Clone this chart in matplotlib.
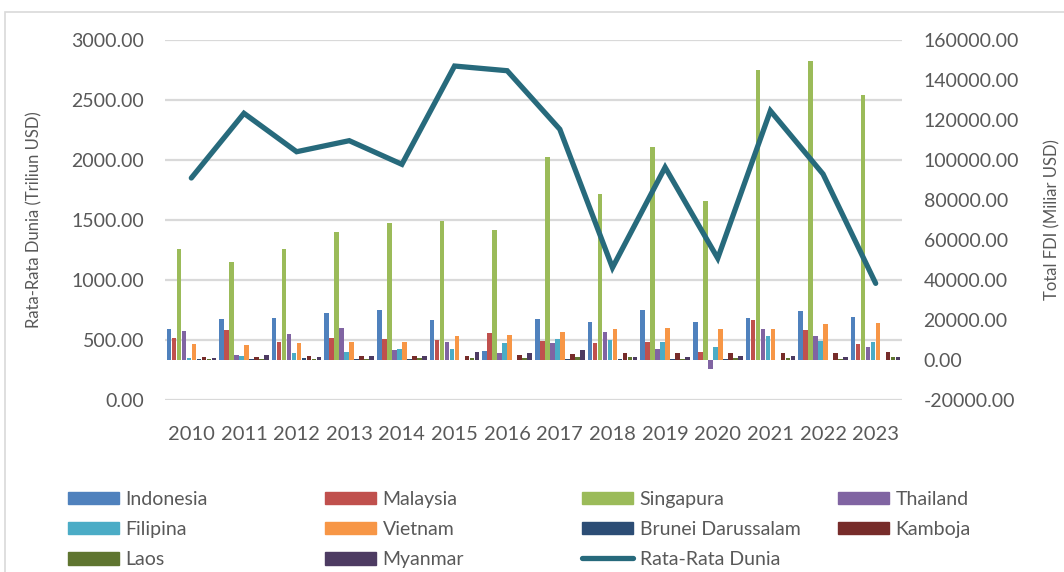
import numpy as np
import matplotlib.pyplot as plt
from matplotlib.lines import Line2D
from matplotlib.patches import Patch, Rectangle

plt.rcParams['font.family'] = ['Lato', 'DejaVu Sans']

# data (Total FDI in Miliar USD, world average in Triliun USD)
years = ['2010', '2011', '2012', '2013', '2014', '2015', '2016',
         '2017', '2018', '2019', '2020', '2021', '2022', '2023']

indonesia = [15300, 20500, 21200, 23500, 25000, 20000, 4500,
             20500, 19000, 25000, 19200, 21200, 24700, 21700]
malaysia = [11000, 15200, 9200, 11200, 10500, 10000, 13500,
            9300, 8500, 9000, 4200, 20200, 15200, 8200]
singapura = [55300, 49000, 55300, 64200, 68300, 69500, 64800,
             101700, 83000, 106500, 79500, 145200, 149300, 132500]
thailand = [14700, 2700, 13000, 16000, 4800, 9000, 3700,
            8500, 13800, 5500, -4500, 15300, 12000, 6500]
filipina = [1200, 2000, 3300, 4000, 5700, 5500, 8500,
            10300, 10000, 8800, 6700, 11800, 9300, 9000]
vietnam = [8200, 7500, 8500, 9000, 9200, 11800, 12700,
           14200, 15500, 16000, 15700, 15700, 18000, 18700]
brunei = [500, 700, 900, 700, 600, 200, -150,
          500, 500, 400, 600, 200, 200, 200]
kamboja = [1300, 1700, 2000, 2000, 2000, 2000, 2700,
           3200, 3300, 3700, 3700, 3700, 3700, 4000]
laos = [300, 500, 600, 400, 900, 1000, 1000,
        1700, 1300, 700, 1000, 1000, 700, 1700]
myanmar = [1000, 2700, 1300, 2200, 2200, 4200, 3300,
           5000, 1700, 1700, 2000, 1800, 1300, 1700]

rata_rata_dunia = [1850, 2389, 2069, 2161, 1964, 2783, 2744,
                   2256, 1103, 1939, 1181, 2410, 1883, 972]

countries = ['Indonesia', 'Malaysia', 'Singapura', 'Thailand', 'Filipina',
             'Vietnam', 'Brunei Darussalam', 'Kamboja', 'Laos', 'Myanmar']
series = [indonesia, malaysia, singapura, thailand, filipina,
          vietnam, brunei, kamboja, laos, myanmar]
colors = ['#4F81BD', '#C0504D', '#9BBB59', '#8064A2', '#4BACC6',
          '#F79646', '#2C4D75', '#772C2A', '#5F7530', '#4D3B62']
line_color = '#276A7C'
text_color = '#595959'
grid_color = '#D9D9D9'

fig = plt.figure(figsize=(10.64, 5.72), dpi=100)
fig.patches.append(Rectangle((5 / 1064, -0.1), 1.2, 1 - 12 / 572 + 0.1,
                             transform=fig.transFigure, fill=False,
                             edgecolor=grid_color, linewidth=1.2))

ax = fig.add_axes([165 / 1064, 1 - 400 / 572, 737 / 1064, 360 / 572])
ax2 = ax.twinx()

# bars -> right axis (ax), line -> left axis (ax2, drawn on top)
left_lo, left_hi = 0, 3000
right_lo, right_hi = -20000, 160000
ax.set_ylim(right_lo, right_hi)
ax2.set_ylim(left_lo, left_hi)

x = np.arange(len(years))
n = len(series)
group = 0.95
w = group / n
for i, (vals, c) in enumerate(zip(series, colors)):
    ax.bar(x - group / 2 + w * (i + 0.5), vals, width=w * 0.92, color=c,
           zorder=3)

# horizontal gridlines at the left-axis ticks, behind the bars
left_ticks = np.arange(0, 3001, 500)
for t in left_ticks:
    yv = right_lo + (t - left_lo) * (right_hi - right_lo) / (left_hi - left_lo)
    ax.axhline(yv, color=grid_color, linewidth=1.6, zorder=1)

ax2.plot(x, rata_rata_dunia, color=line_color, linewidth=3.8,
         solid_joinstyle='miter', solid_capstyle='round', zorder=4)

ax.set_xlim(-0.5, len(years) - 0.5)
ax.set_xticks(x)
ax.set_xticklabels(years)
ax.yaxis.tick_right()
ax.yaxis.set_label_position('right')
ax.set_yticks(np.arange(-20000, 160001, 20000))
ax.set_yticklabels(['%.2f' % v for v in np.arange(-20000, 160001, 20000)])
ax2.yaxis.tick_left()
ax2.yaxis.set_label_position('left')
ax2.set_yticks(left_ticks)
ax2.set_yticklabels(['%.2f' % v for v in left_ticks])

for a in (ax, ax2):
    for s in a.spines.values():
        s.set_visible(False)
    a.tick_params(length=0, colors=text_color, labelsize=14)
ax.tick_params(axis='x', pad=19, labelsize=14.5)
ax.tick_params(axis='y', pad=15.5)
ax2.tick_params(axis='y', pad=15)

ax.set_ylabel('Total FDI (Miliar USD)', color=text_color, fontsize=12,
              labelpad=18)
ax2.set_ylabel('Rata-Rata Dunia (Triliun USD)', color=text_color,
               fontsize=12, labelpad=21)

# legend, four columns of equal width like the original
handles = [Patch(color=c) for c in colors]
handles.append(Line2D([], [], color=line_color, linewidth=3.8,
                      solid_capstyle='round'))
labels = countries + ['Rata-Rata Dunia']
col_x = [68, 325, 582, 838]
for col in range(4):
    idx = [k for k in range(col, len(labels), 4)]
    fig.legend([handles[k] for k in idx], [labels[k] for k in idx],
               loc='upper left', bbox_to_anchor=(col_x[col] / 1064, 1 - 491 / 572),
               frameon=False, fontsize=14, labelcolor=text_color,
               handlelength=2.6, handleheight=0.62, handletextpad=0.36,
               labelspacing=0.67, borderpad=0, borderaxespad=0)

fig.savefig('out.png', dpi=100)
